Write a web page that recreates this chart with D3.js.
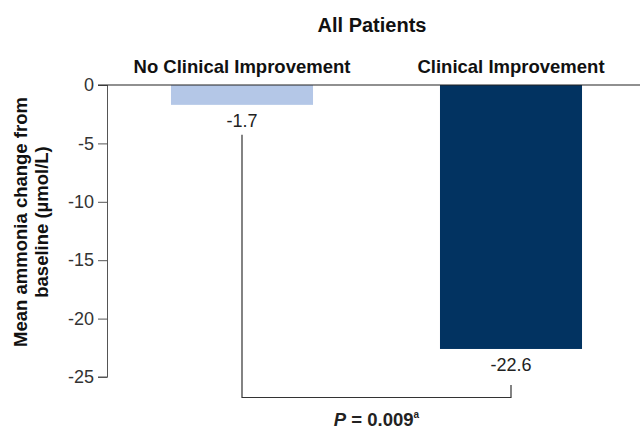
<!DOCTYPE html>
<html>
<head>
<meta charset="utf-8">
<script src="https://cdn.jsdelivr.net/npm/d3@7"></script>
<style>
  html, body { margin: 0; padding: 0; background: #fff; }
  svg { display: block; font-family: "Liberation Sans", Arial, sans-serif; }
</style>
</head>
<body>
<svg id="chart" width="641" height="429"></svg>
<script>
// Mean ammonia change from baseline by clinical response
const categories = ["No Clinical Improvement", "Clinical Improvement"];
const values = [-1.7, -22.6];
const barColors = ["#b4c7e7", "#023361"];
const yTicks = [0, -5, -10, -15, -20, -25];
const title = "All Patients";
const yTitleLines = ["Mean ammonia change from", "baseline (\u00b5mol/L)"];
const pValue = "0.009";

const svg = d3.select("#chart");
const axisX = 107.5;
const rightEdge = 640;

const x = d3.scaleBand()
  .domain(categories)
  .range([axisX, 645.5])
  .paddingInner(0.472)
  .paddingOuter(0.236);

const y = d3.scaleLinear().domain([0, -25]).range([85, 377]);

// title
svg.append("text")
  .attr("x", 372).attr("y", 32)
  .attr("text-anchor", "middle")
  .attr("font-weight", "bold").attr("font-size", 20)
  .attr("fill", "#111")
  .text(title);

// category headers
svg.selectAll(".cat").data(categories).join("text")
  .attr("class", "cat")
  .attr("x", d => x(d) + x.bandwidth() / 2)
  .attr("y", 73)
  .attr("text-anchor", "middle")
  .attr("font-weight", "bold").attr("font-size", 18.5)
  .attr("fill", "#111")
  .text(d => d);

// bars
svg.selectAll(".bar").data(values).join("rect")
  .attr("class", "bar")
  .attr("x", (d, i) => x(categories[i]))
  .attr("y", y(0))
  .attr("width", x.bandwidth())
  .attr("height", d => y(d) - y(0))
  .attr("fill", (d, i) => barColors[i]);

// value labels
svg.selectAll(".val").data(values).join("text")
  .attr("class", "val")
  .attr("x", (d, i) => x(categories[i]) + x.bandwidth() / 2)
  .attr("y", d => y(d) + 22)
  .attr("text-anchor", "middle")
  .attr("font-size", 18)
  .attr("fill", "#222")
  .text(d => d.toFixed(1));

// y axis
const yAxis = d3.axisLeft(y)
  .tickValues(yTicks)
  .tickSize(9.5)
  .tickPadding(4)
  .tickFormat(d => String(d));

const gy = svg.append("g")
  .attr("transform", `translate(${axisX},0)`)
  .call(yAxis);
gy.select(".domain").attr("stroke", "#555").attr("d", `M-9.5,${y(-25)}H0V${y(0)}`);
gy.selectAll(".tick line").attr("stroke", "#555");
gy.selectAll(".tick text")
  .attr("font-size", 18)
  .attr("fill", "#333")
  .attr("font-family", "Liberation Sans, Arial, sans-serif");

// zero baseline across the chart
svg.append("line")
  .attr("x1", axisX - 9.5).attr("x2", rightEdge)
  .attr("y1", y(0)).attr("y2", y(0))
  .attr("stroke", "#222").attr("stroke-width", 1.2);

// y axis title
const yTitle = svg.append("text")
  .attr("transform", `translate(27,222) rotate(-90)`)
  .attr("text-anchor", "middle")
  .attr("font-weight", "bold").attr("font-size", 18.5)
  .attr("fill", "#111");
yTitleLines.forEach((t, i) => {
  yTitle.append("tspan")
    .attr("x", 0).attr("dy", i === 0 ? 0 : 21)
    .text(t);
});

// significance bracket
const c0 = x(categories[0]) + x.bandwidth() / 2;
const c1 = x(categories[1]) + x.bandwidth() / 2;
const bracketY = 397.5;
svg.append("path")
  .attr("d", `M${c0},${y(values[0]) + 30}V${bracketY}H${c1}V${y(values[1]) + 36}`)
  .attr("fill", "none")
  .attr("stroke", "#333")
  .attr("stroke-width", 1.2);

const pText = svg.append("text")
  .attr("x", (c0 + c1) / 2)
  .attr("y", 426)
  .attr("text-anchor", "middle")
  .attr("font-weight", "bold").attr("font-size", 18.5)
  .attr("fill", "#222");
pText.append("tspan").attr("font-style", "italic").text("P");
pText.append("tspan").text(" = " + pValue);
pText.append("tspan").attr("font-size", 10).attr("dy", -8).text("a");
</script>
</body>
</html>
